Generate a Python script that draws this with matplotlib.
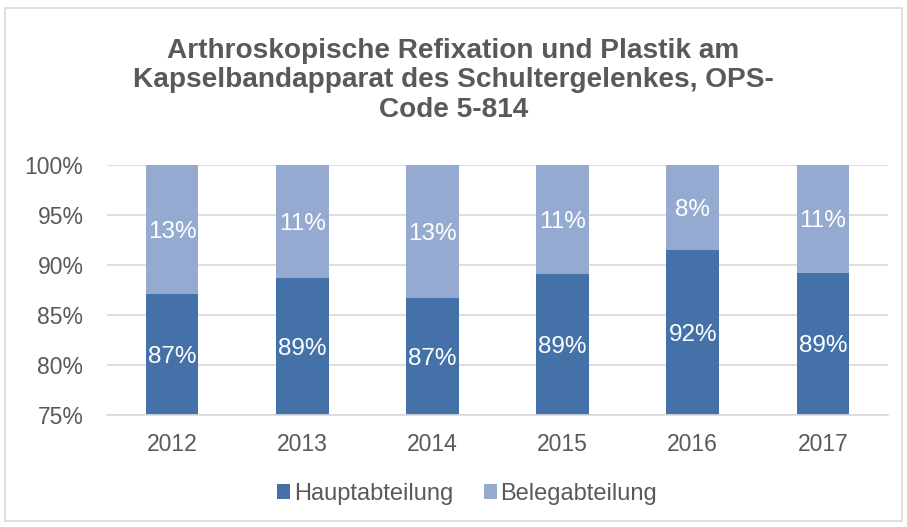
import numpy as np
import matplotlib
matplotlib.use('Agg')
import matplotlib.pyplot as plt
from matplotlib.patches import Rectangle
from matplotlib.ticker import FuncFormatter

plt.rcParams['font.family'] = ['Liberation Sans', 'DejaVu Sans']

# data
years = ['2012', '2013', '2014', '2015', '2016', '2017']
haupt = [87.1, 88.7, 86.7, 89.1, 91.5, 89.2]
beleg = [12.9, 11.3, 13.3, 10.9, 8.5, 10.8]
haupt_labels = ['87%', '89%', '87%', '89%', '92%', '89%']
beleg_labels = ['13%', '11%', '13%', '11%', '8%', '11%']

c_haupt = '#4472A8'
c_beleg = '#95AAD0'
c_text = '#595959'

fig = plt.figure(figsize=(9.07, 5.27), dpi=100)
ax = fig.add_axes([0.118, 0.2125, 0.861, 0.4745])

x = np.arange(len(years))
w = 0.405
ax.bar(x, haupt, w, color=c_haupt, label='Hauptabteilung', zorder=2)
ax.bar(x, beleg, w, bottom=haupt, color=c_beleg, label='Belegabteilung', zorder=2)

# data labels
for i in range(len(years)):
    ax.text(x[i], (75 + haupt[i]) / 2, haupt_labels[i], ha='center', va='center_baseline',
            color='white', fontsize=17.5)
    ax.text(x[i], haupt[i] + beleg[i] / 2, beleg_labels[i], ha='center', va='center_baseline',
            color='white', fontsize=17.5)

ax.set_ylim(75, 100)
ax.set_xlim(-0.5, len(years) - 0.5)
ax.set_yticks(np.arange(75, 101, 5))
ax.yaxis.set_major_formatter(FuncFormatter(lambda v, p: '%d%%' % v))
ax.set_xticks(x)
ax.set_xticklabels(years)
ax.grid(axis='y', color='#D9D9D9', linewidth=1.2, zorder=0)
for s in ['top', 'right', 'left']:
    ax.spines[s].set_visible(False)
ax.spines['bottom'].set_color('#D9D9D9')
ax.spines['bottom'].set_linewidth(1.2)
ax.tick_params(axis='both', length=0, labelsize=16.5, colors=c_text)
ax.tick_params(axis='y', pad=17)
ax.tick_params(axis='x', pad=13)

fig.text(0.5, 0.848, 'Arthroskopische Refixation und Plastik am\n'
         'Kapselbandapparat des Schultergelenkes, OPS-\nCode 5-814',
         ha='center', va='center', fontsize=20.2, fontweight='bold',
         color=c_text, linespacing=1.18)

leg = fig.legend(loc='center', bbox_to_anchor=(0.515, 0.063), ncol=2, frameon=False,
                 fontsize=17, handlelength=0.55, handleheight=0.55, handletextpad=0.15,
                 columnspacing=1.3)
for t in leg.get_texts():
    t.set_color(c_text)

fig.patches.append(Rectangle((0.006, 0.012), 0.988, 0.973, transform=fig.transFigure,
                             fill=False, edgecolor='#D9D9D9', linewidth=1.2))

fig.savefig('out.png', dpi=100, facecolor='white')
